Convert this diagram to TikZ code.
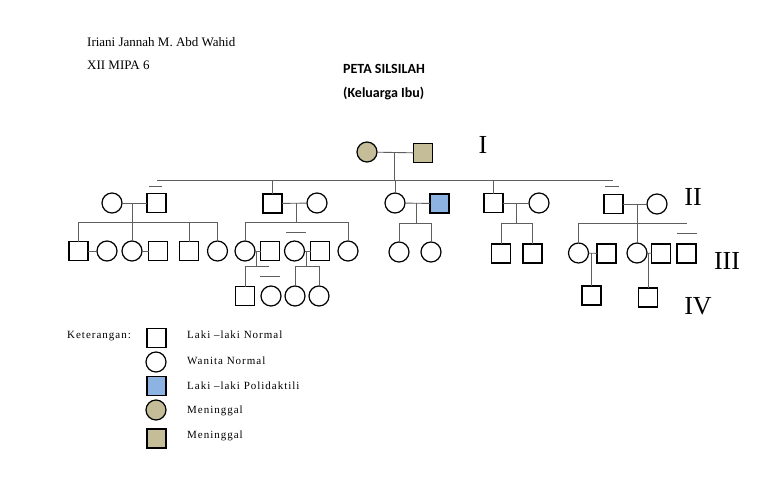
\documentclass[tikz,border=0pt]{standalone}
\usepackage{fontspec}
\setmainfont{Liberation Serif}
\newfontfamily\calibrifont{Carlito}
\newfontfamily\legendfont[LetterSpace=9]{Liberation Serif}
\definecolor{tanfill}{RGB}{196,189,151}
\definecolor{polyfill}{RGB}{141,179,226}
\definecolor{conn}{RGB}{95,95,95}
\tikzset{
  male/.style={rectangle, draw=black, line width=1.2pt, minimum size=19pt, inner sep=0pt, outer sep=0pt, fill=white},
  female/.style={circle, draw=black, line width=1.2pt, minimum size=20pt, inner sep=0pt, outer sep=0pt, fill=white},
  link/.style={draw=conn, line width=0.9pt},
  roman/.style={font=\fontsize{26}{26}\selectfont, inner sep=0pt},
  plain/.style={anchor=base west, inner sep=0pt, font=\fontsize{13}{13}\selectfont},
  title/.style={anchor=base west, inner sep=0pt, font=\calibrifont\bfseries\fontsize{14}{14}\selectfont},
  legtext/.style={anchor=base west, inner sep=0pt, font=\legendfont\fontsize{11}{11}\selectfont},
}
\begin{document}
\begin{tikzpicture}[x=1pt,y=-1pt]
\useasboundingbox[fill=white] (0,0) rectangle (768,503);

% header texts
\node[plain] (t1) at (87,47) {Iriani Jannah M. Abd Wahid};
\node[plain] (t2) at (87,70) {XII MIPA 6};
\node[title] (t3) at (343,74) {PETA SILSILAH};
\node[title] (t4) at (343,97) {(Keluarga Ibu)};

% generation labels
\node[roman] (rI) at (483,145) {I};
\node[roman] (rII) at (693,197) {II};
\node[roman] (rIII) at (727,261) {III};
\node[roman] (rIV) at (698,306) {IV};

% ---------- Generation I ----------
\coordinate (sibL) at (157,180);
\coordinate (sibR) at (613,180);
\draw[link] (sibL) -- (sibR);
\node[female, fill=tanfill] (Ia) at (367,152) {};
\node[male, fill=tanfill] (Ib) at (423,153) {};
\coordinate (mI) at (394,152);
\draw[link] (Ia) -- (Ib);
\draw[link] (mI) -- (mI |- sibL);

% ---------- Family 1 ----------
\node[female] (f1w) at (112,203) {};
\node[male] (f1h) at (156.5,203) {};
\coordinate (b1a) at (149,186); \coordinate (b1b) at (162,186);
\draw[link] (b1a) -- (b1b);
\draw[link] (f1w) -- (f1h);
\coordinate (c1L) at (78,222); \coordinate (c1R) at (218,222);
\draw[link] (c1L) -- (c1R);
\node[male] (g1) at (78.5,251) {};
\node[female] (g2) at (107,251) {};
\node[female] (g3) at (132,251) {};
\node[male] (g4) at (158,251) {};
\node[male] (g5) at (189,251) {};
\node[female] (g6) at (217.5,251) {};
\coordinate (m1) at (132,203);
\draw[link] (m1) -- (g3.north);
\draw[link] (g1.north) -- (g1.north |- c1L);
\draw[link] (g5.north) -- (g5.north |- c1L);
\draw[link] (g6.north) -- (g6.north |- c1L);
\draw[link] (g1) -- (g2);
\draw[link] (g3) -- (g4);

% ---------- Family 2 ----------
\node[male] (f2h) at (272.5,203.5) {};
\node[female] (f2w) at (317,203) {};
\draw[link] (f2h.north) -- (f2h.north |- sibL);
\draw[link] (f2h) -- (f2w);
\coordinate (m2) at (296,203);
\coordinate (c2L) at (245,222); \coordinate (c2R) at (348,222);
\draw[link] (m2) -- (m2 |- c2L);
\draw[link] (c2L) -- (c2R);
\coordinate (b2a) at (286,232); \coordinate (b2b) at (306,232);
\draw[link] (b2a) -- (b2b);
\node[female] (h1) at (245,251) {};
\node[male] (h2) at (270,251) {};
\node[female] (h3) at (294.5,251) {};
\node[male] (h4) at (320,251) {};
\node[female] (h5) at (348,251) {};
\draw[link] (h1.north) -- (h1.north |- c2L);
\draw[link] (h5.north) -- (h5.north |- c2L);
\draw[link] (h1) -- (h2);
\draw[link] (h3) -- (h4);
% children of h1 x h2
\coordinate (m3) at (256,251);
\coordinate (c3L) at (245,266); \coordinate (c3R) at (269,266);
\draw[link] (m3) -- (m3 |- c3L);
\draw[link] (c3L) -- (c3R);
\coordinate (b3a) at (260,276); \coordinate (b3b) at (280,276);
\draw[link] (b3a) -- (b3b);
\node[male] (k1) at (245,296) {};
\node[female] (k2) at (271,296) {};
\draw[link] (k1.north) -- (k1.north |- c3L);
% children of h3 x h4
\coordinate (m4) at (306,251);
\coordinate (c4L) at (295,266); \coordinate (c4R) at (319,266);
\draw[link] (m4) -- (m4 |- c4L);
\draw[link] (c4L) -- (c4R);
\node[female] (k3) at (295,296) {};
\node[female] (k4) at (319,296) {};
\draw[link] (k3.north) -- (k3.north |- c4L);
\draw[link] (k4.north) -- (k4.north |- c4L);

% ---------- Family 3 ----------
\node[female] (f3w) at (395,203) {};
\node[male, fill=polyfill] (f3h) at (439.5,203.5) {};
\draw[link] (f3w.north) -- (f3w.north |- sibL);
\draw[link] (f3w) -- (f3h);
\coordinate (m5) at (416,203);
\coordinate (c5L) at (399,223); \coordinate (c5R) at (431,223);
\draw[link] (m5) -- (m5 |- c5L);
\draw[link] (c5L) -- (c5R);
\node[female] (j1) at (399,252) {};
\node[female] (j2) at (431,252) {};
\draw[link] (j1.north) -- (j1.north |- c5L);
\draw[link] (j2.north) -- (j2.north |- c5L);

% ---------- Family 4 ----------
\node[male] (f4h) at (493.5,203) {};
\node[female] (f4w) at (539,203) {};
\draw[link] (f4h.north) -- (f4h.north |- sibL);
\draw[link] (f4h) -- (f4w);
\coordinate (m6) at (516,203);
\coordinate (c6L) at (501,223); \coordinate (c6R) at (533,223);
\draw[link] (m6) -- (m6 |- c6L);
\draw[link] (c6L) -- (c6R);
\node[male] (j3) at (501,253.5) {};
\node[male] (j4) at (532.5,253.5) {};
\draw[link] (j3.north) -- (j3.north |- c6L);
\draw[link] (j4.north) -- (j4.north |- c6L);

% ---------- Family 5 ----------
\node[male] (f5h) at (613.5,204) {};
\node[female] (f5w) at (657,204) {};
\coordinate (b5a) at (605,186); \coordinate (b5b) at (619,186);
\draw[link] (b5a) -- (b5b);
\draw[link] (f5h) -- (f5w);
\coordinate (c7L) at (579,223); \coordinate (c7R) at (687,223);
\draw[link] (c7L) -- (c7R);
\node[female] (l1) at (578.5,253) {};
\node[male] (l1h) at (606.5,253.5) {};
\node[female] (l2) at (637,253) {};
\node[male] (l2h) at (661,253.5) {};
\node[male] (l3) at (686.5,253.5) {};
\coordinate (m7) at (637,204);
\draw[link] (m7) -- (l2.north);
\draw[link] (l1.north) -- (l1.north |- c7L);
\coordinate (b6a) at (677,233); \coordinate (b6b) at (697,233);
\draw[link] (b6a) -- (b6b);
\draw[link] (l1) -- (l1h);
\draw[link] (l2) -- (l2h);
\node[male] (n1) at (591.5,295.5) {};
\node[male] (n2) at (648,297.5) {};
\coordinate (m8) at (591.5,253);
\coordinate (m9) at (648,253);
\draw[link] (m8) -- (n1.north);
\draw[link] (m9) -- (n2.north);

% ---------- Legend ----------
\node[legtext] (kt) at (67,338) {Keterangan:};
\node[male] (L1) at (156.5,338) {};
\node[female] (L2) at (156,362) {};
\node[male, fill=polyfill] (L3) at (156.5,386) {};
\node[female, fill=tanfill] (L4) at (156,410) {};
\node[male, fill=tanfill] (L5) at (156.5,438.5) {};
\node[legtext] (T1) at (187,338) {Laki –laki Normal};
\node[legtext] (T2) at (187,364) {Wanita Normal};
\node[legtext] (T3) at (187,389) {Laki –laki Polidaktili};
\node[legtext] (T4) at (187,413) {Meninggal};
\node[legtext] (T5) at (187,438) {Meninggal};
\end{tikzpicture}
\end{document}
